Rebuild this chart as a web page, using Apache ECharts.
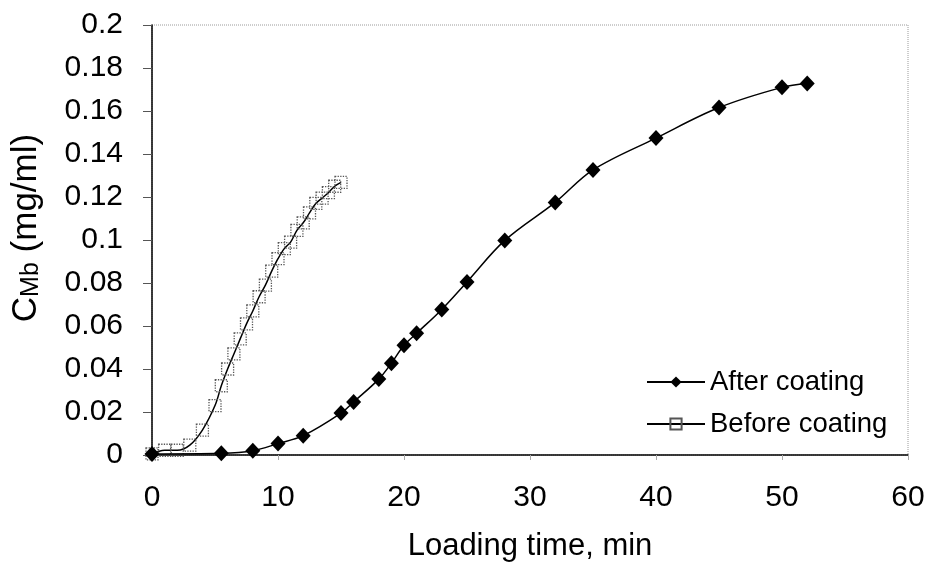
<!DOCTYPE html>
<html>
<head>
<meta charset="utf-8">
<script src="https://cdn.jsdelivr.net/npm/echarts@6/dist/echarts.min.js"></script>
<style>
html,body{margin:0;padding:0;background:#fff;}
#chart{width:929px;height:568px;}
</style>
</head>
<body>
<div id="chart"></div>
<script>
var afterTime = [0, 5.5, 8, 10, 12, 15, 16, 18, 19, 20, 21, 23, 25, 28, 32, 35, 40, 45, 50, 52];
var afterConc = [0.0005, 0.0008, 0.002, 0.0053, 0.009, 0.0195, 0.0247, 0.0353, 0.0427, 0.051, 0.0566, 0.0677, 0.0805, 0.0998, 0.1175, 0.1326, 0.1474, 0.1616, 0.171, 0.1728];
var beforeTime = [0, 1, 2, 3, 4, 5, 5.5, 6, 6.5, 7, 7.5, 8, 8.5, 9, 9.5, 10, 10.5, 11, 11.5, 12, 12.5, 13, 13.5, 14, 14.5, 15];
var beforeConc = [0.0005, 0.0022, 0.0022, 0.0046, 0.0116, 0.023, 0.0322, 0.040, 0.047, 0.054, 0.061, 0.067, 0.0736, 0.079, 0.0855, 0.0913, 0.096, 0.099, 0.1045, 0.108, 0.1126, 0.117, 0.1195, 0.122, 0.125, 0.1268];
var seriesNames = ['After coating', 'Before coating'];
var xTitle = 'Loading time, min';

function pairs(xs, ys) { return xs.map(function (x, i) { return [x, ys[i]]; }); }

var FONT = '"Liberation Sans", Arial, sans-serif';
var chart = echarts.init(document.getElementById('chart'), null, {renderer: 'canvas'});
chart.setOption({
  animation: false,
  backgroundColor: '#fff',
  textStyle: {fontFamily: FONT},
  grid: {left: 152, right: 21, top: 25, bottom: 113, show: true, borderColor: '#9a9a9a', borderWidth: 1, borderType: 'dotted', backgroundColor: 'transparent'},
  legend: {
    orient: 'vertical', left: 641, top: 363, itemGap: 14,
    itemWidth: 58, itemHeight: 14,
    data: seriesNames,
    textStyle: {fontFamily: FONT, fontSize: 27.5, color: '#000'}
  },
  xAxis: {
    type: 'value', min: 0, max: 60, interval: 10,
    name: xTitle, nameLocation: 'middle', nameGap: 76,
    nameTextStyle: {fontFamily: FONT, fontSize: 31, color: '#000'},
    axisLine: {lineStyle: {color: '#000', width: 1.5}},
    axisTick: {show: true, inside: false, length: 5, lineStyle: {color: '#aaa'}},
    axisLabel: {fontFamily: FONT, fontSize: 30, color: '#000', margin: 28},
    splitLine: {show: false}
  },
  yAxis: {
    type: 'value', min: 0, max: 0.2, interval: 0.02,
    name: 'C{sub|Mb} (mg/ml)', nameLocation: 'middle', nameGap: 108,
    nameTextStyle: {fontFamily: FONT, fontSize: 35, color: '#000', padding: [0, 0, 0, 24],
      rich: {sub: {fontFamily: FONT, fontSize: 25, color: '#000', verticalAlign: 'bottom', padding: [9, 0, 0, 0]}}},
    axisLine: {lineStyle: {color: '#000', width: 1.5}},
    axisTick: {show: true, inside: false, length: 9, lineStyle: {color: '#555'}},
    axisLabel: {fontFamily: FONT, fontSize: 30, color: '#000', margin: 29},
    splitLine: {show: false}
  },
  series: [
    {
      name: seriesNames[1], type: 'line', smooth: 0.35,
      data: pairs(beforeTime, beforeConc),
      symbol: 'rect', symbolSize: 12,
      lineStyle: {color: '#000', width: 1.5},
      itemStyle: {color: 'rgba(255,255,255,0)', borderColor: '#555', borderWidth: 1.3, borderType: 'dotted'},
      z: 2
    },
    {
      name: seriesNames[0], type: 'line', smooth: 0.35,
      data: pairs(afterTime, afterConc),
      symbol: 'diamond', symbolSize: [15, 16],
      lineStyle: {color: '#000', width: 1.5},
      itemStyle: {color: '#000'},
      z: 3
    }
  ]
});
</script>
</body>
</html>
